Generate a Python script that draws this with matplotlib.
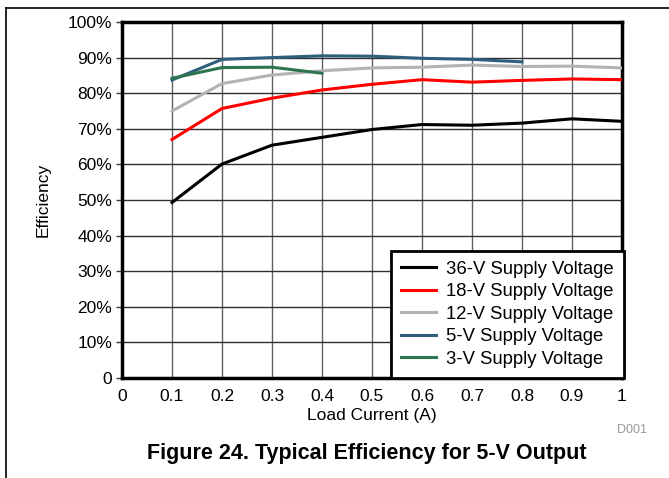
import matplotlib
matplotlib.use('Agg')
import matplotlib.pyplot as plt
from matplotlib.lines import Line2D
from matplotlib.ticker import FuncFormatter

plt.rcParams['font.family'] = ['Liberation Sans', 'DejaVu Sans']

# load current (A)
current = [0.1, 0.2, 0.3, 0.4, 0.5, 0.6, 0.7, 0.8, 0.9, 1.0]

# efficiency (%) per supply voltage
eff_36v = [49.3, 60.1, 65.4, 67.6, 69.8, 71.2, 71.0, 71.6, 72.8, 72.1]
eff_18v = [67.0, 75.7, 78.6, 80.9, 82.5, 83.8, 83.1, 83.6, 84.0, 83.8]
eff_12v = [75.0, 82.7, 85.1, 86.3, 87.1, 87.3, 87.9, 87.5, 87.6, 87.1]
eff_5v = [83.7, 89.5, 90.0, 90.5, 90.4, 89.8, 89.5, 88.8]
eff_3v = [84.2, 87.2, 87.3, 85.6]

labels = ['36-V Supply Voltage', '18-V Supply Voltage', '12-V Supply Voltage',
          '5-V Supply Voltage', '3-V Supply Voltage']
colors = ['#000000', '#ff0000', '#b3b3b3', '#2d5f7c', '#2d7451']
series = [eff_36v, eff_18v, eff_12v, eff_5v, eff_3v]

x_ticks = [0, 0.1, 0.2, 0.3, 0.4, 0.5, 0.6, 0.7, 0.8, 0.9, 1]
y_ticks = list(range(0, 101, 10))

fig = plt.figure(figsize=(6.69, 4.78), dpi=100)
ax = fig.add_axes([122 / 669, 100 / 478, 500 / 669, 356 / 478])

for vals, col in zip(series, colors):
    ax.plot(current[:len(vals)], vals, color=col, lw=2.2, zorder=3)

ax.set_xlim(0, 1)
ax.set_ylim(0, 100)
ax.set_xticks(x_ticks)
ax.set_yticks(y_ticks)
ax.xaxis.set_major_formatter(FuncFormatter(lambda v, p: '0' if v == 0 else ('1' if v == 1 else f'{v:.1f}')))
ax.yaxis.set_major_formatter(FuncFormatter(lambda v, p: '0' if v == 0 else f'{v:.0f}%'))
ax.tick_params(axis='x', length=0, pad=8, labelsize=12.5)
ax.tick_params(axis='y', length=4, width=1, pad=3, labelsize=12.5, color='#404040')
ax.grid(True, color='#303030', lw=1, zorder=1)
ax.xaxis.grid(True, color='#606060')
for s in ax.spines.values():
    s.set_linewidth(2.5)

ax.set_xlabel('Load Current (A)', fontsize=12.5, labelpad=3)
ax.set_ylabel('Efficiency', fontsize=12.5, labelpad=12)

handles = [Line2D([], [], color=c, lw=2.2) for c in colors]
leg = ax.legend(handles, labels, loc='lower right', fontsize=13.3, handlelength=1.9,
                handletextpad=0.55, labelspacing=0.3, borderpad=0.55,
                borderaxespad=0, fancybox=False, framealpha=1, edgecolor='black',
                bbox_to_anchor=(1.004, 0.0))
leg.get_frame().set_linewidth(2)
leg.set_zorder(5)

fig.text(632 / 669, 1 - 430 / 478, 'D001', color='#999999', fontsize=9,
         ha='center', va='center')
fig.text(367 / 669, 1 - 454 / 478, 'Figure 24. Typical Efficiency for 5-V Output',
         fontsize=15.5, fontweight='bold', ha='center', va='center')

# page border
fig.add_artist(Line2D([6 / 669, 6 / 669], [0, 1 - 8 / 478], color='black', lw=1.2))
fig.add_artist(Line2D([6 / 669, 1], [1 - 8 / 478, 1 - 8 / 478], color='black', lw=1.2))

fig.savefig('out.png', dpi=100)
